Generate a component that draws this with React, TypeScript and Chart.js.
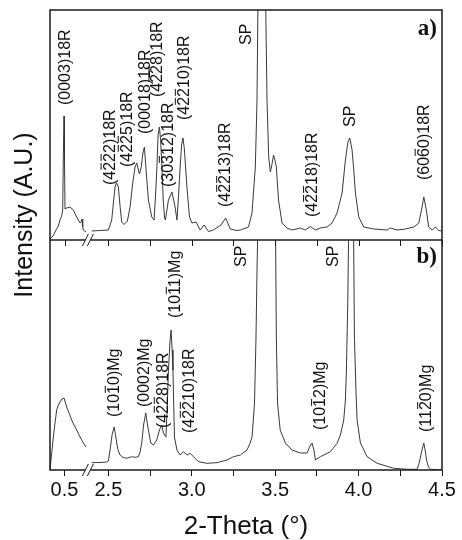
import React, { useEffect, useRef } from 'react';
import { Chart, registerables } from 'chart.js';
Chart.register(...registerables);

// Broken x axis: segment 1 ends at SEG1_END, segment 2 starts at SEG2_START
const SEG1_END = 0.64;
const SEG2_START = 2.377;
const THETA_MIN = 0.413;
const THETA_MAX = 4.5;
const toU = (t: number) => (t < 1.5 ? t : t - (SEG2_START - SEG1_END));

const TICK_THETA = [0.5, 2.5, 2.75, 3.0, 3.25, 3.5, 3.75, 4.0, 4.25, 4.5];
const TICK_LABELS = ['0.5', '2.5', '', '3.0', '', '3.5', '', '4.0', '', '4.5'];

// Panel a) segment 1
const A1_THETA = [0.413, 0.431, 0.449, 0.463, 0.473, 0.483, 0.489, 0.494, 0.497, 0.500, 0.503, 0.513, 0.533, 0.553, 0.573, 0.593, 0.600, 0.605, 0.609, 0.613, 0.629];
const A1_INT = [1, 4, 10, 14, 20, 24, 30, 95, 124, 80, 31, 32, 33, 30, 23, 17, 18, 21, 13, 10, 8];

// Panel a) segment 2
const A2_THETA = [2.400, 2.450, 2.500, 2.520, 2.530, 2.540, 2.549, 2.560, 2.570, 2.580, 2.594, 2.614, 2.630, 2.646, 2.660, 2.670, 2.686, 2.696, 2.708, 2.716, 2.726, 2.740, 2.760, 2.774, 2.783, 2.791, 2.798, 2.806, 2.813, 2.821, 2.829, 2.837, 2.842, 2.860, 2.881, 2.900, 2.911, 2.921, 2.930, 2.939, 2.947, 2.955, 2.971, 2.986, 3.001, 3.026, 3.050, 3.074, 3.100, 3.130, 3.175, 3.203, 3.231, 3.271, 3.291, 3.340, 3.361, 3.381, 3.391, 3.398, 3.420, 3.441, 3.451, 3.461, 3.471, 3.480, 3.490, 3.501, 3.507, 3.520, 3.541, 3.571, 3.601, 3.651, 3.680, 3.711, 3.741, 3.771, 3.811, 3.841, 3.871, 3.901, 3.921, 3.936, 3.947, 3.961, 3.971, 3.981, 4.001, 4.031, 4.091, 4.171, 4.191, 4.231, 4.281, 4.331, 4.361, 4.377, 4.391, 4.406, 4.420, 4.441, 4.461, 4.479, 4.500];
const A2_INT = [9, 9.5, 10, 20, 37, 53, 57, 53, 34, 18, 15.5, 19, 33, 57, 73, 77, 66, 72, 88, 93, 70, 40, 23, 20, 45, 73, 105, 113, 100, 73, 40, 22, 20, 40, 48, 33, 20, 45, 73, 95, 102, 92, 53, 23, 17, 18, 10, 15, 8.5, 10, 15, 22, 11, 9.5, 10, 13, 27, 73, 140, 260, 450, 260, 140, 83, 68, 75, 85, 78, 73, 40, 17, 12, 10, 12, 10, 13.5, 10, 12, 13, 17, 27, 47, 80, 98, 102, 90, 70, 47, 23, 13, 11, 10, 12, 10, 11, 13, 17, 30, 43, 30, 13, 10, 13, 9.5, 9];

// Panel b) segment 1
const B1_THETA = [0.413, 0.422, 0.433, 0.443, 0.453, 0.463, 0.473, 0.485, 0.497, 0.513, 0.527, 0.543, 0.557, 0.573, 0.587, 0.603, 0.617, 0.629];
const B1_INT = [0, 15, 33, 47, 60, 65, 68, 71, 72, 63, 57, 50, 45, 40, 35, 30, 26, 23];

// Panel b) segment 2
const B2_THETA = [2.400, 2.450, 2.490, 2.500, 2.510, 2.522, 2.534, 2.543, 2.550, 2.558, 2.570, 2.588, 2.610, 2.640, 2.660, 2.680, 2.690, 2.700, 2.711, 2.724, 2.732, 2.740, 2.754, 2.770, 2.790, 2.806, 2.820, 2.830, 2.845, 2.852, 2.860, 2.870, 2.876, 2.882, 2.887, 2.896, 2.911, 2.930, 2.950, 2.971, 2.990, 3.010, 3.040, 3.091, 3.151, 3.211, 3.250, 3.291, 3.331, 3.350, 3.361, 3.369, 3.376, 3.385, 3.391, 3.398, 3.441, 3.501, 3.507, 3.514, 3.530, 3.561, 3.601, 3.651, 3.691, 3.706, 3.721, 3.732, 3.741, 3.771, 3.831, 3.871, 3.891, 3.911, 3.921, 3.927, 3.935, 3.942, 3.954, 3.969, 3.975, 3.984, 3.991, 4.011, 4.051, 4.111, 4.211, 4.291, 4.351, 4.365, 4.377, 4.391, 4.401, 4.407, 4.419, 4.431, 4.500];
const B2_INT = [7.3, 7.5, 8, 9, 20, 35, 43, 35, 27, 20, 15, 12.5, 11.7, 13.3, 12.7, 13.3, 18, 27, 45, 57, 48, 40, 27, 25, 30, 40, 45, 37, 33, 60, 100, 130, 140, 120, 100, 33, 20, 15, 18.3, 15, 16.7, 13.3, 8.3, 6.7, 7.3, 10, 13.3, 15, 20, 27, 33, 50, 67, 133, 200, 260, 700, 260, 133, 67, 40, 27, 20, 17, 17, 23, 27, 20, 10, 13.3, 18.3, 26.7, 35, 50, 70, 100, 167, 260, 600, 260, 133, 80, 50, 27, 13.3, 6.7, 1.7, 0.7, 0.7, 8, 18, 27, 18, 10, 3, 0.7, 0];

// Peak annotations
const LABEL_TEXT = [
  '(0003)18R', '(42\u03052\u03052)18R', '(42\u03052\u03055)18R', '(00018)18R', '(42\u03052\u03058)18R',
  '(303\u030512)18R', '(42\u03052\u030510)18R', '(42\u03052\u030513)18R', 'SP', '(42\u03052\u030518)18R', 'SP', '(606\u03050)18R',
  'SP', 'SP', '(101\u03050)Mg', '(0002)Mg', '(42\u03052\u03058)18R', '(101\u03051)Mg', '(42\u03052\u030510)18R', '(101\u03052)Mg', '(112\u03050)Mg',
];
const LABEL_PANEL = ['ya', 'ya', 'ya', 'ya', 'ya', 'ya', 'ya', 'ya', 'ya', 'ya', 'ya', 'ya', 'yb', 'yb', 'yb', 'yb', 'yb', 'yb', 'yb', 'yb', 'yb'];
const LABEL_THETA = [0.499, 2.503, 2.606, 2.714, 2.790, 2.852, 2.948, 3.196, 3.321, 3.717, 3.942, 4.386, 3.290, 3.843, 2.528, 2.711, 2.822, 2.894, 2.978, 3.765, 4.401];
const LABEL_LEVEL = [135, 55, 73, 106, 143, 53, 120, 33, 195, 23, 113, 60, 203, 203, 53, 63, 42, 152, 37, 40, 38];

const PANEL_TAGS = ['a)', 'b)'];
const Y_TITLE = 'Intensity (A.U.)';
const X_TITLE = '2-Theta (\u00B0)';

const SANS = '"Liberation Sans", Arial, sans-serif';
const SERIF = '"Liberation Serif", "Times New Roman", serif';
const INK = '#111';
const LINE = '#3a3a3a';

const toPoints = (th: number[], v: number[]) => th.map((t, i) => ({ x: toU(t), y: v[i] }));

const overlay = {
  id: 'overlay',
  beforeDatasetDraw(chart: any, args: any) {
    const ds = chart.data.datasets[args.index];
    const ys = chart.scales[ds.yAxisID];
    const { ctx, chartArea } = chart;
    ctx.save();
    ctx.beginPath();
    ctx.rect(chartArea.left, ys.top, chartArea.right - chartArea.left, ys.bottom - ys.top);
    ctx.clip();
  },
  afterDatasetDraw(chart: any) {
    chart.ctx.restore();
  },
  afterDraw(chart: any) {
    const { ctx, chartArea: ca } = chart;
    const xs = chart.scales.x;
    const ya = chart.scales.ya;
    const yb = chart.scales.yb;
    ctx.save();
    ctx.strokeStyle = '#1a1a1a';
    ctx.lineWidth = 1.5;
    ctx.strokeRect(ca.left, ca.top, ca.right - ca.left, ca.bottom - ca.top);
    ctx.beginPath();
    ctx.moveTo(ca.left, ya.bottom);
    ctx.lineTo(ca.right, ya.bottom);
    ctx.stroke();

    // ticks under panel a
    ctx.lineWidth = 1;
    for (const t of TICK_THETA) {
      const px = Math.round(xs.getPixelForValue(toU(t))) + 0.5;
      ctx.beginPath();
      ctx.moveTo(px, ya.bottom);
      ctx.lineTo(px, ya.bottom + 6);
      ctx.stroke();
    }

    // axis breaks
    const bx = xs.getPixelForValue(SEG1_END);
    for (const yy of [ya.bottom, yb.bottom]) {
      ctx.fillStyle = '#fff';
      ctx.fillRect(bx - 2.5, yy - 1.5, 5, 3);
      ctx.beginPath();
      for (const off of [-2.5, 2.5]) {
        ctx.moveTo(bx + off - 3, yy + 6);
        ctx.lineTo(bx + off + 3, yy - 6);
      }
      ctx.stroke();
    }

    // peak labels
    ctx.fillStyle = INK;
    ctx.strokeStyle = INK;
    ctx.font = '16px ' + SANS;
    ctx.textAlign = 'left';
    ctx.textBaseline = 'alphabetic';
    LABEL_TEXT.forEach((raw, i) => {
      const ys = chart.scales[LABEL_PANEL[i]];
      const x = xs.getPixelForValue(toU(LABEL_THETA[i]));
      const y = ys.getPixelForValue(LABEL_LEVEL[i]);
      let plain = '';
      const bars: number[] = [];
      for (const ch of raw) {
        if (ch === '\u0305') bars.push(plain.length - 1);
        else plain += ch;
      }
      ctx.save();
      ctx.translate(x + 5.7, y);
      ctx.rotate(-Math.PI / 2);
      ctx.fillText(plain, 0, 0);
      ctx.lineWidth = 1;
      for (const j of bars) {
        const x0 = ctx.measureText(plain.slice(0, j)).width;
        const w = ctx.measureText(plain[j]).width;
        ctx.beginPath();
        ctx.moveTo(x0 + 1, -13.5);
        ctx.lineTo(x0 + w - 1, -13.5);
        ctx.stroke();
      }
      ctx.restore();
    });

    // panel tags
    ctx.font = 'bold 23px ' + SERIF;
    ctx.textAlign = 'right';
    ctx.fillText(PANEL_TAGS[0], ca.right - 5, ya.top + 25);
    ctx.fillText(PANEL_TAGS[1], ca.right - 5, yb.top + 23);

    // y title
    ctx.font = '25px ' + SANS;
    ctx.textAlign = 'center';
    ctx.translate(32, 215);
    ctx.rotate(-Math.PI / 2);
    ctx.fillText(Y_TITLE, 0, 0);
    ctx.restore();
  },
};

export default function App() {
  const ref = useRef<HTMLCanvasElement>(null);
  useEffect(() => {
    document.body.style.margin = '0';
    const ds = (th: number[], v: number[], axis: string) => ({
      data: toPoints(th, v),
      xAxisID: 'x',
      yAxisID: axis,
      borderColor: LINE,
      borderWidth: 1,
      pointRadius: 0,
      tension: 0,
      fill: false,
    });
    const yAxis = () => ({
      type: 'linear',
      stack: 'panels',
      stackWeight: 1,
      position: 'left',
      min: 0,
      max: 230,
      ticks: { display: false },
      grid: { display: false, drawTicks: false },
      border: { display: false },
      afterFit: (s: any) => { s.width = 0; },
    });
    const chart = new Chart(ref.current as HTMLCanvasElement, {
      type: 'line',
      data: {
        datasets: [
          ds(A1_THETA, A1_INT, 'ya'),
          ds(A2_THETA, A2_INT, 'ya'),
          ds(B1_THETA, B1_INT, 'yb'),
          ds(B2_THETA, B2_INT, 'yb'),
        ] as any,
      },
      options: {
        responsive: false,
        animation: false,
        events: [],
        layout: { padding: { left: 50, right: 20, top: 10, bottom: 0 } },
        plugins: { legend: { display: false }, tooltip: { enabled: false } },
        scales: {
          x: {
            type: 'linear',
            min: toU(THETA_MIN),
            max: toU(THETA_MAX),
            afterBuildTicks: (s: any) => { s.ticks = TICK_THETA.map((t) => ({ value: toU(t) })); },
            afterFit: (s: any) => { s.height = 70; },
            ticks: {
              autoSkip: false,
              maxRotation: 0,
              minRotation: 0,
              padding: 2,
              color: INK,
              font: { family: SANS, size: 20 },
              callback: (_v: any, i: number) => TICK_LABELS[i],
            },
            grid: { drawOnChartArea: false, drawTicks: true, tickLength: 6, color: '#1a1a1a' },
            border: { display: false },
            title: { display: true, text: X_TITLE, color: INK, font: { family: SANS, size: 26, lineHeight: 1 }, padding: 0 },
          },
          // stacked panels: the first listed is laid out at the bottom
          yb: yAxis(),
          ya: yAxis(),
        } as any,
      },
      plugins: [overlay],
    });
    return () => chart.destroy();
  }, []);
  return <canvas ref={ref} width={462} height={540} style={{ display: 'block' }} />;
}
